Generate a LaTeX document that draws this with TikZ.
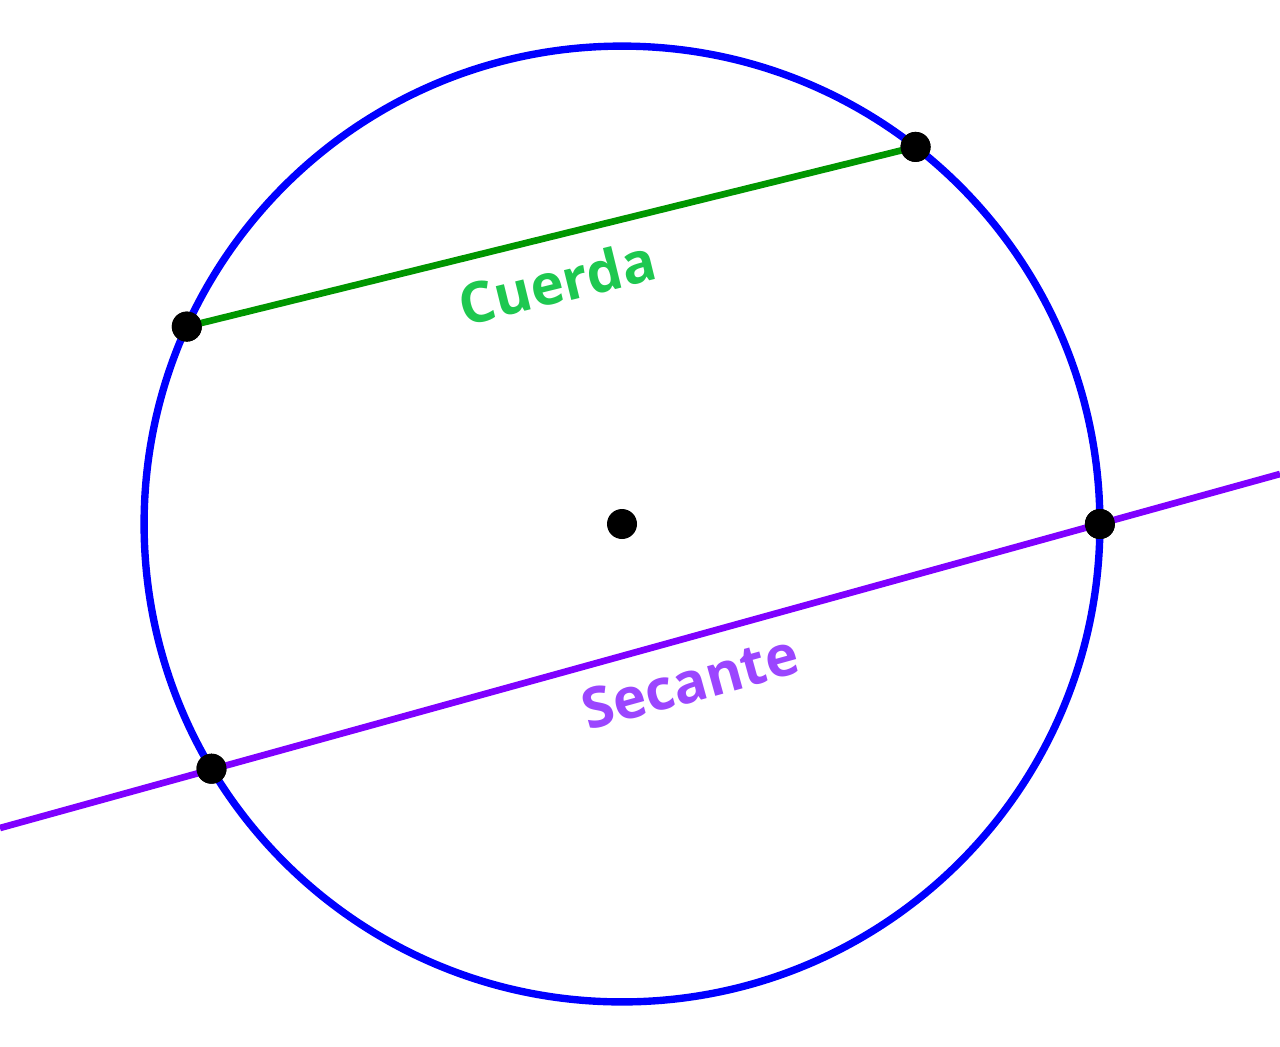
\documentclass[tikz,border=0pt]{standalone}
\usepackage{fontspec}
\setmainfont{Open Sans}
\usetikzlibrary{calc}
\definecolor{circblue}{RGB}{0,0,255}
\definecolor{chordgreen}{RGB}{0,150,0}
\definecolor{chordtext}{RGB}{30,200,80}
\definecolor{secpurple}{RGB}{127,0,255}
\definecolor{sectext}{RGB}{155,70,255}
\begin{document}
\begin{tikzpicture}[x=0.02cm, y=-0.02cm,
  dot/.style={circle, fill=black, inner sep=0pt, minimum size=0.6cm},
  lbl/.style={font=\fontsize{32}{36}\selectfont\bfseries}]
\useasboundingbox (0,0) rectangle (1280,1046);
% Circle
\coordinate (O) at (622,524);
\draw[circblue, line width=4.2pt] (O) circle [radius=9.56cm];

% Points
\node[dot] (centre) at (O) {};
\node[dot] (C1) at ($(O)+(155.6:9.56cm)$) {};
\node[dot] (C2) at ($(O)+(52.1:9.56cm)$) {};
\node[dot] (S1) at ($(O)+(210.8:9.56cm)$) {};
\node[dot] (S2) at ($(O)+(0:9.56cm)$) {};
\coordinate (Sleft) at (0,828);
\coordinate (Sright) at (1280,474);

% Lines
\draw[chordgreen, line width=3.8pt] (C1.center) -- (C2.center);
\draw[secpurple, line width=3.8pt] (Sleft) -- (Sright);
\node[dot] at (C1) {};
\node[dot] at (C2) {};
\node[dot] at (S1) {};
\node[dot] at (S2) {};

% Labels
\node[lbl, text=chordtext, rotate=13.8] (cuerda) at (557,282) {Cuerda};
\node[lbl, text=sectext, rotate=15.45] (secante) at (690,682) {Secante};
\end{tikzpicture}
\end{document}
